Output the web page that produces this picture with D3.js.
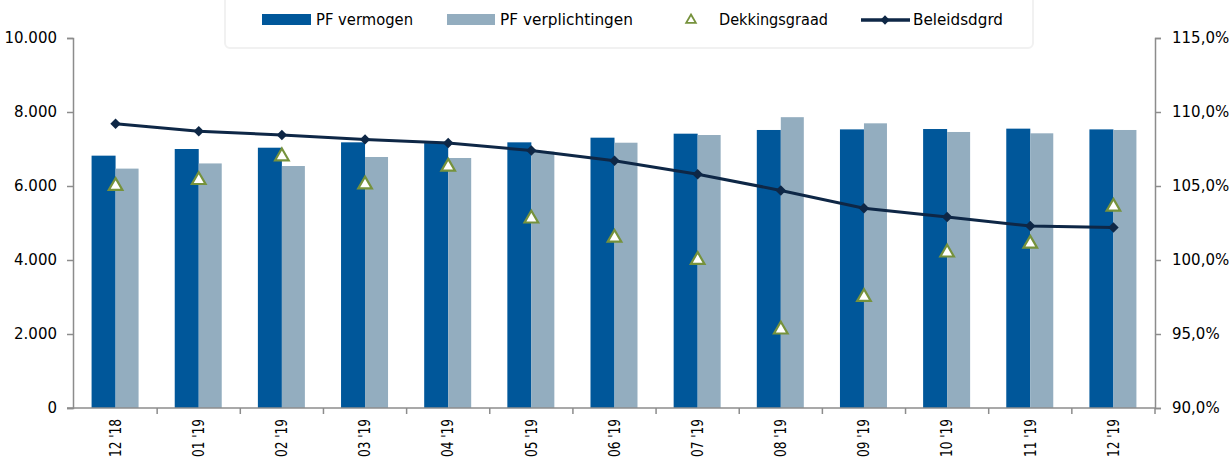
<!DOCTYPE html>
<html>
<head>
<meta charset="utf-8">
<script src="https://cdn.jsdelivr.net/npm/d3@7"></script>
<style>
  body { margin: 0; background: #fff; }
  text { font-family: "DejaVu Sans", Tahoma, sans-serif; fill: #000; }
</style>
</head>
<body>
<script>
var months = ["12 '18", "01 '19", "02 '19", "03 '19", "04 '19", "05 '19", "06 '19", "07 '19", "08 '19", "09 '19", "10 '19", "11 '19", "12 '19"];
var vermogen = [6820, 7000, 7035, 7180, 7160, 7180, 7306, 7414, 7514, 7530, 7540, 7550, 7530];
var verplichtingen = [6470, 6610, 6540, 6784, 6757, 6930, 7170, 7378, 7860, 7694, 7460, 7424, 7514];
var dekkingsgraad = [105.0, 105.4, 107.0, 105.1, 106.3, 102.8, 101.5, 100.0, 95.3, 97.5, 100.5, 101.1, 103.6];
var beleidsgrd = [109.2, 108.7, 108.45, 108.15, 107.9, 107.4, 106.7, 105.8, 104.7, 103.5, 102.9, 102.3, 102.2];
var leftTicks = [0, 2000, 4000, 6000, 8000, 10000];
var rightTicks = [90, 95, 100, 105, 110, 115];

function init() {
    var w = 1232, h = 464;
    var left = 74, right = 1155, top = 38, bottom = 408;

    var darkBlue = "#00579a", lightBlue = "#93adbf", navy = "#0e2746", olive = "#76923c", axisGrey = "#8c8c8c";

    var svg = d3.select("body").append("svg").attr("width", w).attr("height", h);

    var x = d3.scaleBand().domain(months).range([left, right]);
    var xs = d3.scaleBand().domain([0, 1]).range([0, 48]);
    var yL = d3.scaleLinear().domain([0, 10000]).range([bottom, top]);
    var yR = d3.scaleLinear().domain([90, 115]).range([bottom, top]);

    var nl = d3.formatLocale({ decimal: ",", thousands: ".", grouping: [3], currency: ["€", ""] });

    // legend box (behind everything)
    var lg = svg.append("g");
    lg.append("rect").attr("x", 225).attr("y", -4).attr("width", 808).attr("height", 52)
        .attr("fill", "#fff").attr("stroke", "#f1f1f1").attr("stroke-width", 2).attr("rx", 5);

    // bars
    var groups = svg.append("g").selectAll("g")
        .data(months)
        .enter().append("g")
        .attr("transform", function (d) { return "translate(" + (x(d) + x.bandwidth() / 2 - 24) + ",0)"; });

    groups.append("rect")
        .attr("x", xs(0)).attr("width", xs.bandwidth())
        .attr("y", function (d, i) { return yL(vermogen[i]); })
        .attr("height", function (d, i) { return bottom - yL(vermogen[i]); })
        .attr("fill", darkBlue);
    groups.append("rect")
        .attr("x", xs(1)).attr("width", xs.bandwidth() - 1)
        .attr("y", function (d, i) { return yL(verplichtingen[i]); })
        .attr("height", function (d, i) { return bottom - yL(verplichtingen[i]); })
        .attr("fill", lightBlue);

    // axes
    var axL = svg.append("g").attr("transform", "translate(" + (left - 1) + ",0)")
        .call(d3.axisLeft(yL).tickValues(leftTicks).tickSize(6).tickPadding(10).tickFormat(nl.format(",")));
    var axR = svg.append("g").attr("transform", "translate(" + right + ",0)")
        .call(d3.axisRight(yR).tickValues(rightTicks).tickSize(6).tickPadding(11).tickFormat(function (d) { return nl.format(".1f")(d) + "%"; }));
    var axX = svg.append("g").attr("transform", "translate(0," + bottom + ")")
        .call(d3.axisBottom(x).tickSize(0).tickPadding(0));
    axX.select(".domain").attr("d", "M" + (left - 7) + ",0H" + right);

    [axL, axR, axX].forEach(function (a) {
        a.selectAll(".domain, .tick line").attr("stroke", axisGrey).attr("stroke-width", 1.5);
        a.selectAll("text").style("font-size", "15px").attr("fill", "#000");
    });

    axX.selectAll(".tick text")
        .attr("transform", "rotate(-90)")
        .attr("text-anchor", "end")
        .attr("x", -11).attr("y", 0).attr("dy", "0.35em")
        .attr("textLength", 38).attr("lengthAdjust", "spacingAndGlyphs")
        .style("font-size", "15px");

    // tick marks between categories
    svg.append("g").selectAll("line")
        .data(months)
        .enter().append("line")
        .attr("x1", function (d) { return x(d) + x.bandwidth(); })
        .attr("x2", function (d) { return x(d) + x.bandwidth(); })
        .attr("y1", bottom).attr("y2", bottom + 6)
        .attr("stroke", axisGrey).attr("stroke-width", 1.5);

    var cx = function (d, i) { return x(months[i]) + x.bandwidth() / 2; };

    // beleidsdekkingsgraad line
    var line = d3.line()
        .x(function (d, i) { return x(months[i]) + x.bandwidth() / 2; })
        .y(function (d) { return yR(d); });
    svg.append("path").datum(beleidsgrd)
        .attr("d", line).attr("fill", "none")
        .attr("stroke", navy).attr("stroke-width", 3);

    var diamond = d3.symbol().type(d3.symbolDiamond2).size(70);
    svg.append("g").selectAll("path")
        .data(beleidsgrd).enter().append("path")
        .attr("d", diamond)
        .attr("transform", function (d, i) { return "translate(" + cx(d, i) + "," + yR(d) + ")"; })
        .attr("fill", navy);

    // dekkingsgraad triangles
    var tri = d3.symbol().type(d3.symbolTriangle).size(80);
    svg.append("g").selectAll("path")
        .data(dekkingsgraad).enter().append("path")
        .attr("d", tri)
        .attr("transform", function (d, i) { return "translate(" + cx(d, i) + "," + yR(d) + ")"; })
        .attr("fill", "#fff").attr("stroke", olive).attr("stroke-width", 2.2);

    // legend items
    lg.append("rect").attr("x", 262).attr("y", 14).attr("width", 49).attr("height", 11).attr("fill", darkBlue);
    lg.append("text").attr("x", 316).attr("y", 25).attr("textLength", 97).text("PF vermogen");
    lg.append("rect").attr("x", 447).attr("y", 14).attr("width", 48).attr("height", 11).attr("fill", lightBlue);
    lg.append("text").attr("x", 500).attr("y", 25).attr("textLength", 133).text("PF verplichtingen");
    lg.append("path").attr("d", d3.symbol().type(d3.symbolTriangle).size(40))
        .attr("transform", "translate(691,20)")
        .attr("fill", "#fff").attr("stroke", olive).attr("stroke-width", 1.8);
    lg.append("text").attr("x", 719).attr("y", 25).attr("textLength", 109).text("Dekkingsgraad");
    lg.append("line").attr("x1", 861).attr("x2", 910).attr("y1", 20).attr("y2", 20)
        .attr("stroke", navy).attr("stroke-width", 3.5);
    lg.append("path").attr("d", d3.symbol().type(d3.symbolDiamond2).size(55)).attr("transform", "translate(885,20)").attr("fill", navy);
    lg.append("text").attr("x", 913).attr("y", 25).attr("textLength", 90).text("Beleidsdgrd");
    lg.selectAll("text").style("font-size", "15px").attr("lengthAdjust", "spacingAndGlyphs");
}

window.onload = init;
</script>
</body>
</html>
